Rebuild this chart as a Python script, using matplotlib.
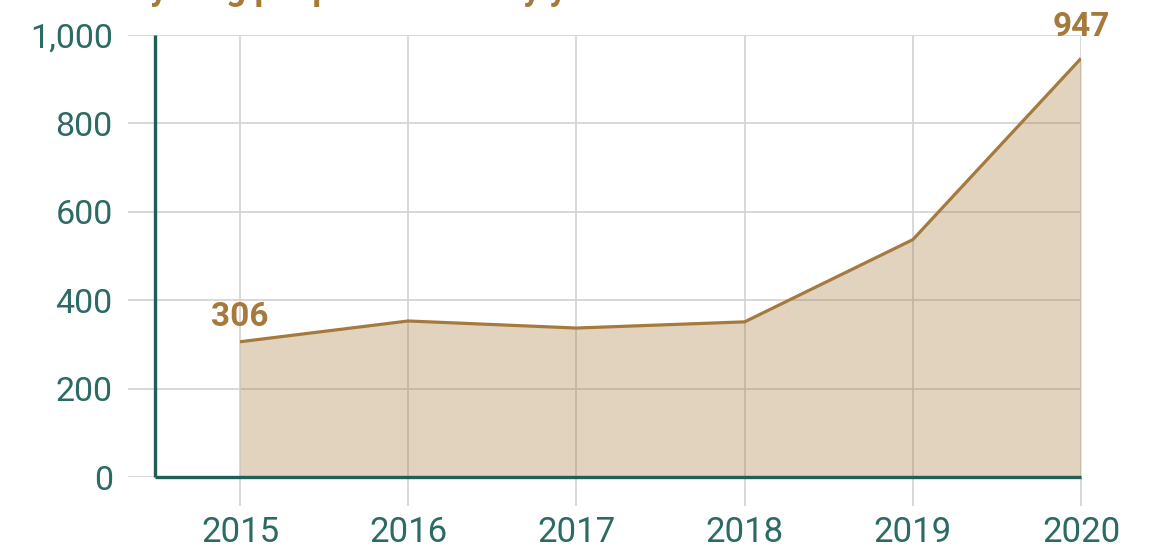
import matplotlib.pyplot as plt

# data
years = [2015, 2016, 2017, 2018, 2019, 2020]
counts = [306, 353, 337, 351, 537, 947]
yticks = [0, 200, 400, 600, 800, 1000]
ytick_labels = ["0", "200", "400", "600", "800", "1,000"]
title = "young people referred by year since"

teal = "#1f5f57"
label_teal = "#2b6b63"
brown = "#a57a3c"
grid_c = "#d2d2d2"

plt.rcParams["font.family"] = ["Roboto", "DejaVu Sans"]

fig = plt.figure(figsize=(11.51, 5.5), dpi=100)
ax = fig.add_axes([128 / 1151, 73 / 550, (1081 - 128) / 1151, 442 / 550])

# fill and line
ax.fill_between(years, counts, 0, color=brown, alpha=0.33, lw=0, zorder=2)
ax.plot(years, counts, color=brown, lw=2.3, zorder=3, solid_capstyle="butt")

ax.set_xlim(2014.334, 2020)
ax.set_ylim(0, 1000)

# grid
ax.set_xticks(years)
ax.set_yticks(yticks)
ax.set_yticklabels(ytick_labels)
ax.grid(True, color=grid_c, lw=1.2, zorder=1)
for s in ax.spines.values():
    s.set_visible(False)
ax.tick_params(axis="y", length=0, pad=11, labelsize=24.5, labelcolor=label_teal)
ax.tick_params(axis="x", length=21, width=1.2, color=grid_c, pad=7,
               labelsize=25, labelcolor=label_teal)

# custom axis lines (the left one sits right of the axes edge)
x0 = 2015 - 85 / 168.2
ax.plot([x0, x0], [0, 1000], color=teal, lw=2.4, zorder=4, clip_on=False,
        solid_capstyle="butt")
ax.plot([x0, 2020], [0, 0], color=teal, lw=2.4, zorder=4, clip_on=False,
        solid_capstyle="butt")

# end labels
ax.annotate(str(counts[0]), (years[0], counts[0]), xytext=(0, 11),
            textcoords="offset points", ha="center", va="baseline",
            fontsize=24, fontweight="bold", color=brown)
ax.annotate(str(counts[-1]), (years[-1], counts[-1]), xytext=(0, 16.5),
            textcoords="offset points", ha="center", va="baseline",
            fontsize=24, fontweight="bold", color=brown, clip_on=False)

# title mostly cropped off at the top
fig.text(150 / 1151, 1.0, title, ha="left", va="baseline",
         fontsize=25, fontweight="bold", color=brown)

fig.savefig("out.png", dpi=100)
